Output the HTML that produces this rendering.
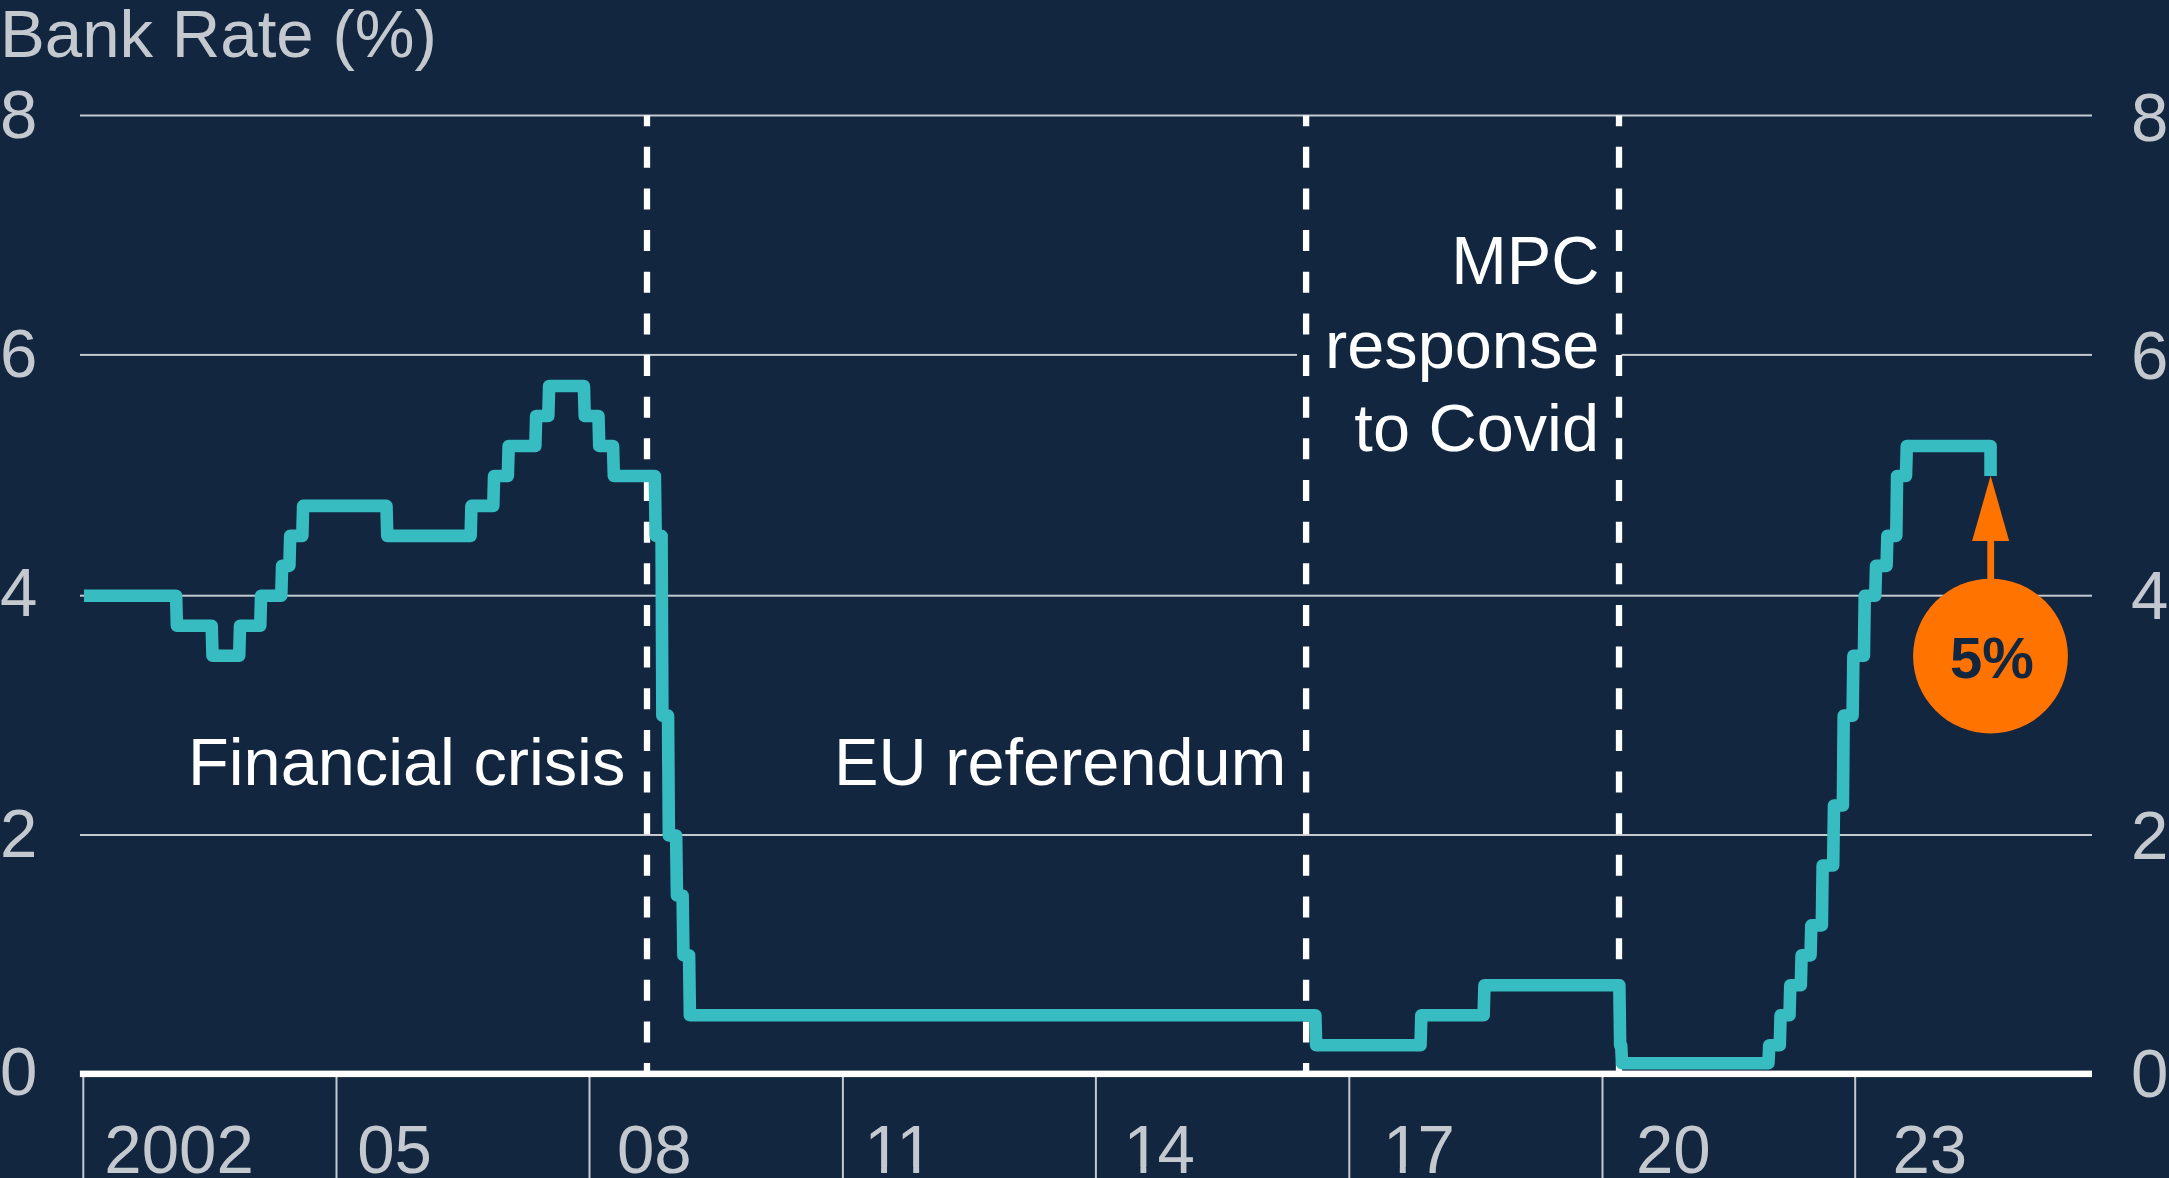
<!DOCTYPE html>
<html lang="en"><head><meta charset="utf-8"><title>Bank Rate</title>
<style>
html,body{margin:0;padding:0;background:#12263f;}
body{width:2169px;height:1178px;overflow:hidden;}
svg{display:block;}
text{font-family:"Liberation Sans",sans-serif;font-size:66.7px;}
.g{fill:#c4c9cf;font-size:67.2px;}
.w{fill:#ffffff;}
</style></head><body>
<svg width="2169" height="1178" viewBox="0 0 2169 1178">
<rect width="2169" height="1178" fill="#12263f"/>
<rect x="80" y="114.5" width="2012" height="2" fill="#c4c9cf"/>
<rect x="80" y="353.9" width="2012" height="2" fill="#c4c9cf"/>
<rect x="80" y="594.7" width="2012" height="2" fill="#c4c9cf"/>
<rect x="80" y="834.0" width="2012" height="2" fill="#c4c9cf"/>
<rect x="1297" y="230" width="324.5" height="240" fill="#12263f"/>
<rect x="82.30" y="1074" width="2" height="104" fill="#c4c9cf"/>
<rect x="335.50" y="1074" width="2" height="104" fill="#c4c9cf"/>
<rect x="588.50" y="1074" width="2" height="104" fill="#c4c9cf"/>
<rect x="841.90" y="1074" width="2" height="104" fill="#c4c9cf"/>
<rect x="1094.90" y="1074" width="2" height="104" fill="#c4c9cf"/>
<rect x="1348.30" y="1074" width="2" height="104" fill="#c4c9cf"/>
<rect x="1601.50" y="1074" width="2" height="104" fill="#c4c9cf"/>
<rect x="1854.20" y="1074" width="2" height="104" fill="#c4c9cf"/>
<rect x="79.9" y="1070.6" width="2012.1" height="6.5" fill="#ffffff"/>
<clipPath id="c"><rect x="0" y="115.5" width="2169" height="958"/></clipPath>
<line x1="647.0" y1="105.15" x2="647.0" y2="1084" stroke="#ffffff" stroke-width="6.3" stroke-dasharray="21 20.65" stroke-dashoffset="0" clip-path="url(#c)"/>
<line x1="1306.1" y1="105.15" x2="1306.1" y2="1084" stroke="#ffffff" stroke-width="6.3" stroke-dasharray="21 20.65" stroke-dashoffset="0" clip-path="url(#c)"/>
<line x1="1619.0" y1="105.15" x2="1619.0" y2="1084" stroke="#ffffff" stroke-width="6.3" stroke-dasharray="21 20.65" stroke-dashoffset="0" clip-path="url(#c)"/>
<path d="M84.00,595.80 L176.10,595.80 L176.90,625.76 L211.70,625.76 L212.50,655.73 L239.21,655.73 L240.01,625.76 L260.25,625.76 L261.05,595.80 L281.29,595.80 L282.09,565.84 L289.38,565.84 L290.18,535.88 L302.32,535.88 L303.12,505.91 L386.47,505.91 L387.27,535.88 L470.62,535.88 L471.42,505.91 L493.28,505.91 L494.08,475.95 L507.84,475.95 L508.64,445.99 L535.35,445.99 L536.15,416.03 L548.30,416.03 L549.10,386.06 L583.90,386.06 L584.70,416.03 L598.46,416.03 L599.26,445.99 L613.03,445.99 L613.83,475.95 L654.87,475.95 L655.67,535.88 L661.57,535.88 L662.37,715.65 L668.05,715.65 L668.85,835.50 L676.14,835.50 L676.94,895.43 L682.61,895.43 L683.41,955.35 L689.08,955.35 L689.88,1015.28 L1315.34,1015.28 L1316.14,1045.24 L1420.53,1045.24 L1421.33,1015.28 L1483.64,1015.28 L1484.44,985.31 L1619.34,985.31 L1620.14,1045.24 L1621.19,1045.24 L1621.99,1063.22 L1768.45,1063.22 L1769.25,1045.24 L1779.78,1045.24 L1780.58,1015.28 L1789.49,1015.28 L1790.29,985.31 L1800.81,985.31 L1801.61,955.35 L1810.52,955.35 L1811.32,925.39 L1821.85,925.39 L1822.65,865.46 L1833.18,865.46 L1833.98,805.54 L1842.89,805.54 L1843.69,715.65 L1852.60,715.65 L1853.40,655.73 L1863.93,655.73 L1864.73,595.80 L1875.25,595.80 L1876.05,565.84 L1886.58,565.84 L1887.38,535.88 L1896.29,535.88 L1897.09,475.95 L1906.00,475.95 L1906.80,445.99 L1990.55,445.99 L1990.55,475.95" fill="none" stroke="#37bcc2" stroke-width="12.6" stroke-linejoin="round" stroke-linecap="butt"/>
<rect x="1987.3" y="535" width="6.8" height="60" fill="#ff7300"/>
<polygon points="1990.6,475.8 2009.2,541 1972.1,541" fill="#ff7300"/>
<circle cx="1990.5" cy="656.1" r="77.4" fill="#ff7300"/>
<text x="1992" y="678" text-anchor="middle" style="font-weight:bold;font-size:58px" fill="#12263f">5%</text>
<text class="g" x="0.00" y="56.9">Bank Rate (%)</text>
<text class="g" x="0.00" y="0" transform="translate(0 138.2) scale(1 1.024)">8</text>
<text class="g" x="2131.00" y="0" transform="translate(0 141.2) scale(1 1.024)">8</text>
<text class="g" x="0.00" y="0" transform="translate(0 377.4) scale(1 1.024)">6</text>
<text class="g" x="2131.00" y="0" transform="translate(0 379.4) scale(1 1.024)">6</text>
<text class="g" x="0.00" y="0" transform="translate(0 616.4) scale(1 1.024)">4</text>
<text class="g" x="2131.00" y="0" transform="translate(0 619.2) scale(1 1.024)">4</text>
<text class="g" x="0.00" y="0" transform="translate(0 857) scale(1 1.024)">2</text>
<text class="g" x="2131.00" y="0" transform="translate(0 858.8) scale(1 1.024)">2</text>
<text class="g" x="0.00" y="0" transform="translate(0 1095.4) scale(1 1.024)">0</text>
<text class="g" x="2131.00" y="0" transform="translate(0 1097.2) scale(1 1.024)">0</text>
<text class="g" x="104.30" y="0" transform="translate(0 1173.3) scale(1 1.024)">2002</text>
<text class="g" x="357.20" y="0" transform="translate(0 1173.3) scale(1 1.024)">05</text>
<text class="g" x="617.00" y="0" transform="translate(0 1173.3) scale(1 1.024)">08</text>
<text class="g" x="1636.00" y="0" transform="translate(0 1173.3) scale(1 1.024)">20</text>
<text class="g" x="1892.50" y="0" transform="translate(0 1173.3) scale(1 1.024)">23</text>
<text class="g" x="864.20 896.30" y="0" transform="translate(0 1173.3) scale(1 1.024)">11</text>
<rect x="867.82" y="1166.96" width="13.28" height="8" fill="#12263f"/>
<rect x="887.04" y="1166.96" width="12.75" height="8" fill="#12263f"/>
<rect x="899.92" y="1166.96" width="13.28" height="8" fill="#12263f"/>
<rect x="919.14" y="1166.96" width="12.75" height="8" fill="#12263f"/>
<text class="g" x="1123.50 1157.50" y="0" transform="translate(0 1173.3) scale(1 1.024)">14</text>
<rect x="1127.12" y="1166.96" width="13.28" height="8" fill="#12263f"/>
<rect x="1146.34" y="1166.96" width="12.75" height="8" fill="#12263f"/>
<text class="g" x="1382.90 1417.50" y="0" transform="translate(0 1173.3) scale(1 1.024)">17</text>
<rect x="1386.52" y="1166.96" width="13.28" height="8" fill="#12263f"/>
<rect x="1405.74" y="1166.96" width="12.75" height="8" fill="#12263f"/>
<text class="w" x="188.00" y="784.8">Financial crisis</text>
<text class="w" x="834.00" y="784.8">EU referendum</text>
<text class="w" text-anchor="end" x="1599.40" y="0" transform="translate(0 283.6) scale(1 1.038)">MPC</text>
<text class="w" text-anchor="end" x="1599.40" y="367.5">response</text>
<text class="w" text-anchor="end" x="1599.00" y="450.7">to Covid</text>
</svg></body></html>
